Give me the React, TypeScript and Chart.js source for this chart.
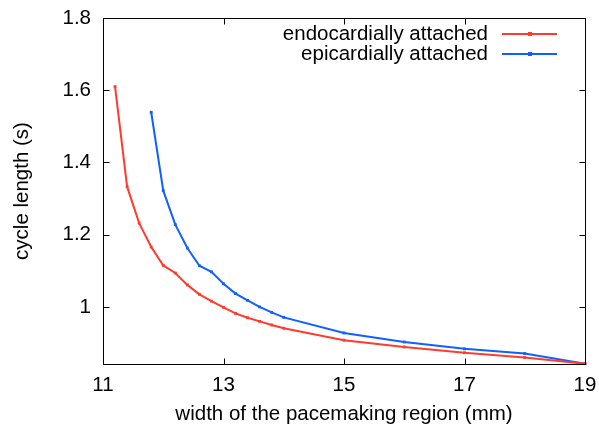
import React, { useEffect, useRef } from "react";
import { Chart, registerables } from "chart.js";

Chart.register(...registerables);

const endoX = [11.2, 11.4, 11.6, 11.8, 12.0, 12.2, 12.4, 12.6, 12.8, 13.0, 13.2, 13.4, 13.6, 13.8, 14.0, 15, 16, 17, 18, 19];
const endoY = [1.61, 1.333, 1.232, 1.166, 1.115, 1.094, 1.061, 1.035, 1.016, 0.999, 0.982, 0.970, 0.960, 0.950, 0.941, 0.908, 0.889, 0.873, 0.860, 0.843];
const epiX = [11.8, 12.0, 12.2, 12.4, 12.6, 12.8, 13.0, 13.2, 13.4, 13.6, 13.8, 14.0, 15, 16, 17, 18, 19];
const epiY = [1.539, 1.322, 1.228, 1.163, 1.114, 1.097, 1.064, 1.037, 1.018, 1.000, 0.985, 0.971, 0.928, 0.903, 0.884, 0.871, 0.843];
const xTicks = [11, 13, 15, 17, 19];
const yTicks = [1, 1.2, 1.4, 1.6, 1.8];
const seriesNames = ["endocardially attached", "epicardially attached"];
const seriesColors = ["#ff3b2f", "#1060ff"];

const FONT = "'Liberation Sans', Arial, Helvetica, sans-serif";
const FS = 20.5;

export default function App() {
  const ref = useRef<HTMLCanvasElement>(null);
  useEffect(() => {
    const canvas = ref.current!;
    const frame = {
      id: "frame",
      afterDatasetsDraw(chart: any) {
        const { ctx, chartArea: a, scales } = chart;
        ctx.save();
        ctx.strokeStyle = "#000";
        ctx.lineWidth = 1;
        const L = Math.round(a.left) + 0.5, R = Math.round(a.right) + 0.5;
        const T = Math.round(a.top) + 0.5, B = Math.round(a.bottom) + 0.5;
        ctx.strokeRect(L, T, R - L, B - T);
        const tl = 6;
        ctx.beginPath();
        xTicks.forEach((v) => {
          const px = Math.round(scales.x.getPixelForValue(v)) + 0.5;
          ctx.moveTo(px, B); ctx.lineTo(px, B - tl);
          ctx.moveTo(px, T); ctx.lineTo(px, T + tl);
        });
        yTicks.forEach((v) => {
          const py = Math.round(scales.y.getPixelForValue(v)) + 0.5;
          ctx.moveTo(L, py); ctx.lineTo(L + tl, py);
          ctx.moveTo(R, py); ctx.lineTo(R - tl, py);
        });
        ctx.stroke();
        // legend
        ctx.font = `${FS}px ${FONT}`;
        ctx.textAlign = "right";
        ctx.textBaseline = "middle";
        seriesNames.forEach((name, i) => {
          const y = 34 + i * 20;
          ctx.fillStyle = "#000";
          ctx.fillText(name, 488, y);
          ctx.strokeStyle = seriesColors[i];
          ctx.lineWidth = 2;
          ctx.beginPath();
          ctx.moveTo(502, y);
          ctx.lineTo(557, y);
          ctx.stroke();
          ctx.fillStyle = seriesColors[i];
          ctx.fillRect(528, y - 2, 4, 4);
        });
        ctx.restore();
      },
    };
    const chart = new Chart(canvas, {
      type: "line",
      data: {
        datasets: [
          {
            label: seriesNames[0],
            data: endoX.map((x, i) => ({ x, y: endoY[i] })),
            borderColor: seriesColors[0],
            backgroundColor: seriesColors[0],
            borderWidth: 2,
            pointStyle: "rect",
            pointRadius: 2,
            pointBorderWidth: 0,
            clip: false,
          } as any,
          {
            label: seriesNames[1],
            data: epiX.map((x, i) => ({ x, y: epiY[i] })),
            borderColor: seriesColors[1],
            backgroundColor: seriesColors[1],
            borderWidth: 2,
            pointStyle: "rect",
            pointRadius: 2,
            pointBorderWidth: 0,
            clip: false,
          } as any,
        ],
      },
      options: {
        responsive: false,
        animation: false,
        devicePixelRatio: 1,
        layout: { padding: { top: 18, right: 14, left: 0, bottom: 0 } },
        plugins: { legend: { display: false }, tooltip: { enabled: false } },
        scales: {
          x: {
            type: "linear",
            min: 11,
            max: 19,
            afterBuildTicks: (s: any) => { s.ticks = xTicks.map((v) => ({ value: v })); },
            afterFit: (s: any) => { s.height = 65; s.paddingLeft = 0; s.paddingRight = 0; },
            grid: { display: false, drawTicks: false },
            border: { display: false },
            ticks: { color: "#000", font: { family: FONT, size: FS }, padding: 9, maxRotation: 0, callback: (v: any) => String(v) },
            title: { display: true, text: "width of the pacemaking region (mm)", color: "#000", font: { family: FONT, size: FS }, padding: { top: 0, bottom: 2 } },
          },
          y: {
            type: "linear",
            min: 0.842,
            max: 1.8,
            afterBuildTicks: (s: any) => { s.ticks = yTicks.map((v) => ({ value: v })); },
            afterFit: (s: any) => { s.width = 103; s.paddingTop = 0; s.paddingBottom = 0; },
            grid: { display: false, drawTicks: false },
            border: { display: false },
            ticks: { color: "#000", font: { family: FONT, size: FS }, padding: 12, callback: (v: any) => String(Math.round(v * 10) / 10) },
            title: { display: true, text: "cycle length (s)", color: "#000", font: { family: FONT, size: FS }, padding: { top: 10, bottom: 0 } },
          },
        },
      },
      plugins: [frame],
    });
    return () => chart.destroy();
  }, []);
  return (
    <div style={{ position: "absolute", left: 0, top: 0, width: 599, height: 429, background: "#fff" }}>
      <canvas ref={ref} width={599} height={429} />
    </div>
  );
}
